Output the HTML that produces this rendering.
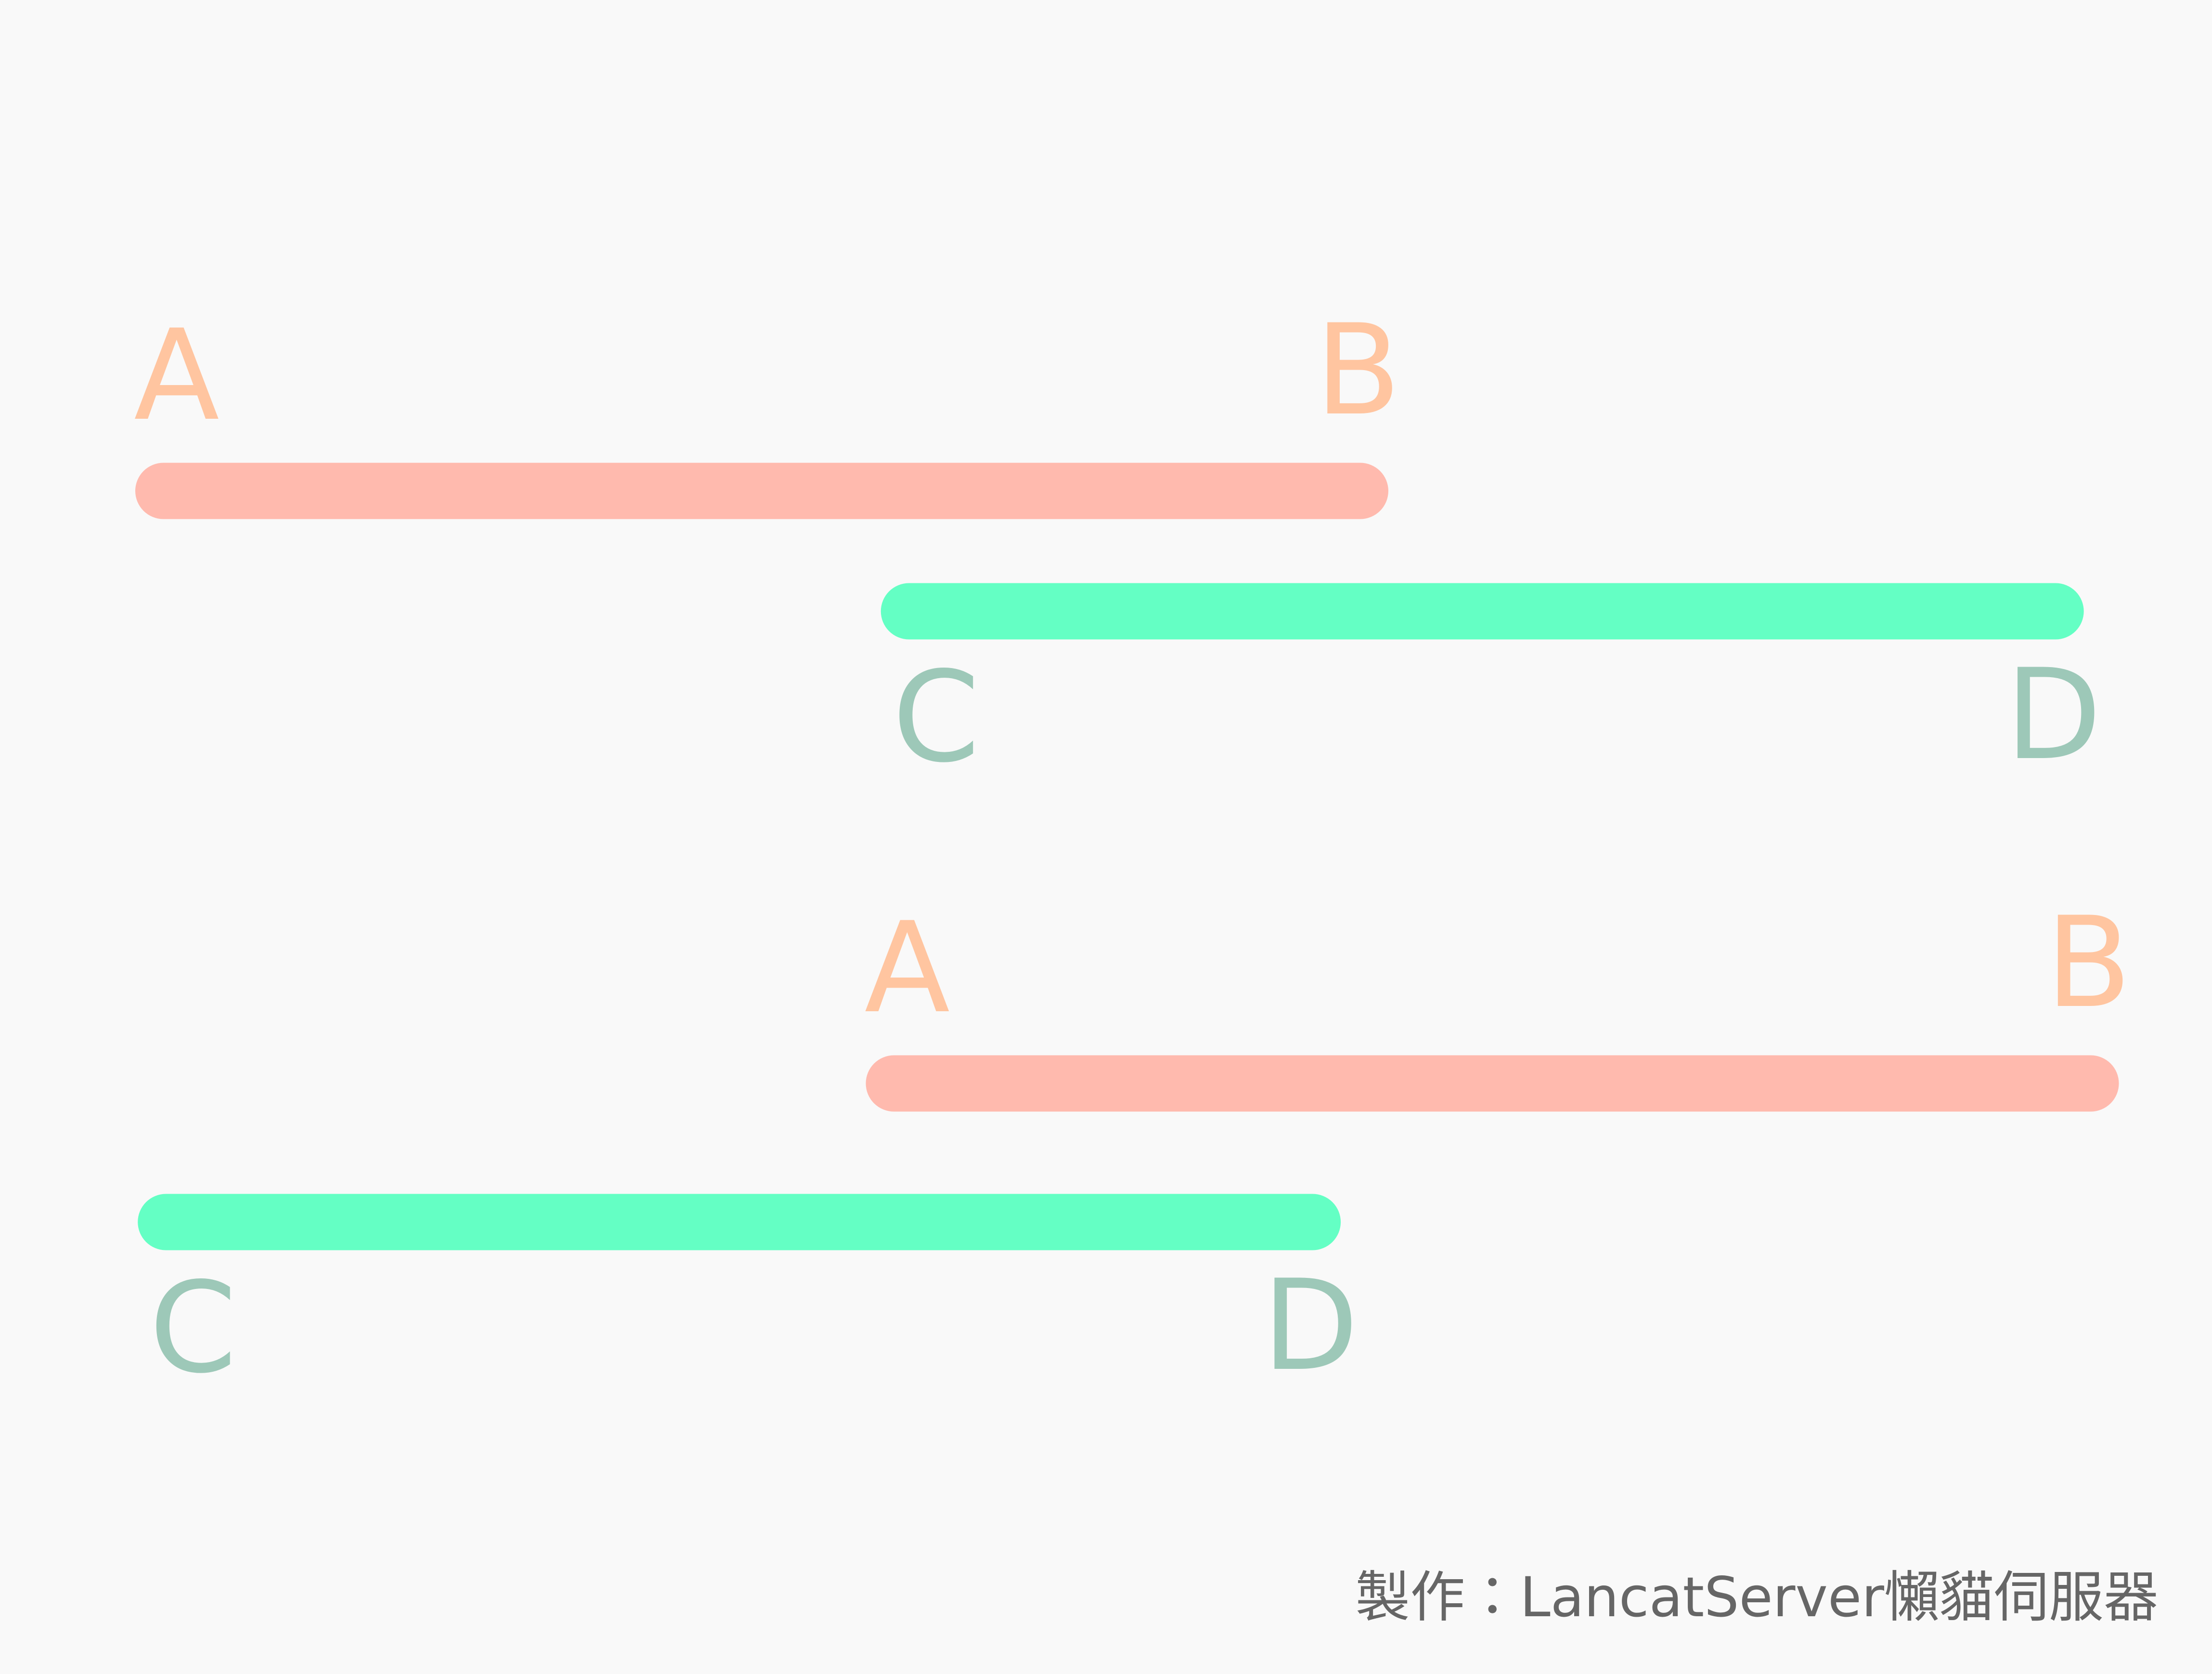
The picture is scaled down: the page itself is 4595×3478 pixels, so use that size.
<!DOCTYPE html>
<html><head><meta charset="utf-8">
<style>
html,body{margin:0;padding:0;background:#F9F9F9;}
svg{display:block;}
text{font-family:"DejaVu Sans","Liberation Sans","Noto Sans CJK TC",sans-serif;}
</style></head>
<body>
<svg id="chart" width="4595" height="3478" viewBox="0 0 4595 3478" xmlns="http://www.w3.org/2000/svg">
<rect x="0" y="0" width="4595" height="3478" fill="#F9F9F9"/>
<g id="marks"></g>
<text x="4484" y="3358" text-anchor="end" font-size="114" fill="#666666">製作：LancatServer懶貓伺服器</text>
</svg>
<script>
// segment data (domain units along horizontal axis)
const segNames = ['AB-1','CD-1','AB-2','CD-2'];
const segStart = [0.0, 0.595, 0.583, 0.002];
const segEnd   = [1.0, 1.555, 1.583, 0.962];
const segRow   = [0, 1, 2, 3];
const segType  = ['ab','cd','ab','cd'];
const startLabels = ['A','C','A','C'];
const endLabels   = ['B','D','B','D'];

const x0 = 281, x1 = 2884; // domain 0..1 maps to this
const xs = v => x0 + v*(x1-x0);
const rowY = [1020, 1270, 2251, 2539];
const ys = r => rowY[r];
const thick = 117;
const styles = {ab:{bar:'#FFBAAE',text:'#FFC5A0',dy:-150,dyEnd:-161,sx:-3}, cd:{bar:'#64FFC4',text:'#9DC8B8',dy:310,dyEnd:305,sx:24}};
const ns='http://www.w3.org/2000/svg';
const g=document.getElementById('marks');
for(let i=0;i<segNames.length;i++){
  const s=styles[segType[i]];
  const xa=xs(segStart[i]), xb=xs(segEnd[i]), y=ys(segRow[i]);
  const r=document.createElementNS(ns,'rect');
  r.setAttribute('x',xa);r.setAttribute('y',y-thick/2);
  r.setAttribute('width',xb-xa);r.setAttribute('height',thick);
  r.setAttribute('rx',thick/2);r.setAttribute('fill',s.bar);
  
  
  g.appendChild(r);
  const t1=document.createElementNS(ns,'text');
  t1.setAttribute('x',xa+s.sx);t1.setAttribute('y',y+s.dy);
  t1.setAttribute('font-size','260');t1.setAttribute('fill',s.text);
  t1.textContent=startLabels[i];
  
  
  g.appendChild(t1);
  const t2=document.createElementNS(ns,'text');
  t2.setAttribute('x',xb-63);t2.setAttribute('y',y+s.dyEnd);
  t2.setAttribute('font-size','260');t2.setAttribute('fill',s.text);
  t2.setAttribute('text-anchor','middle');
  t2.textContent=endLabels[i];
  
  
  g.appendChild(t2);
}
</script>
</body></html>
